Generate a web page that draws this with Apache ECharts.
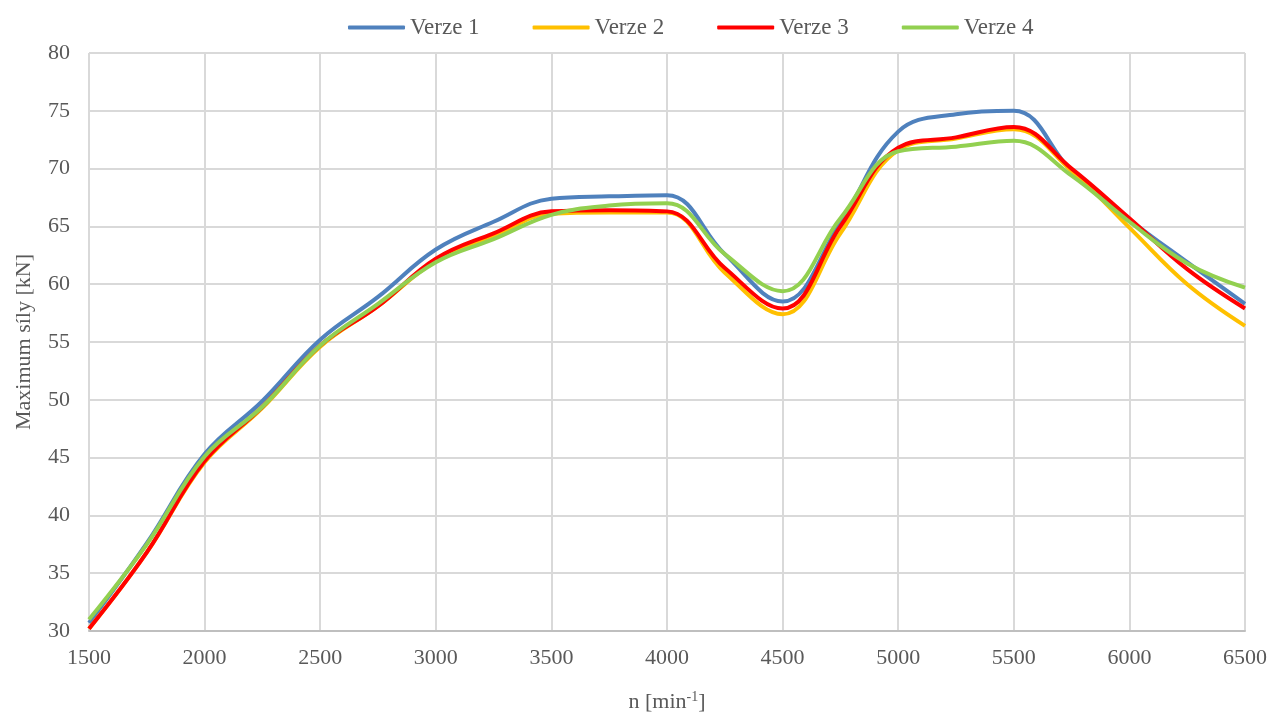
<!DOCTYPE html>
<html>
<head>
<meta charset="utf-8">
<script src="https://cdn.jsdelivr.net/npm/echarts@6/dist/echarts.min.js"></script>
<style>html,body{margin:0;padding:0;background:#fff;}#c{width:1274px;height:718px;}</style>
</head>
<body>
<div id="c"></div>
<script>
const rpm = [1500,1750,2000,2250,2500,2750,3000,3250,3500,3750,4000,4250,4500,4750,5000,5250,5500,5750,6000,6250,6500];
const verze1 = [30.7,37.6,45.3,49.9,55.2,58.9,63.0,65.4,67.4,67.6,67.7,62.6,58.5,65.3,73.2,74.7,75.0,69.8,65.6,61.9,58.3];
const verze2 = [30.2,36.8,44.6,49.3,54.6,58.1,62.0,64.1,66.1,66.2,66.2,61.0,57.4,64.4,71.6,72.6,73.4,69.8,64.9,60.0,56.4];
const verze3 = [30.2,36.8,44.7,49.4,54.7,58.1,62.2,64.4,66.3,66.4,66.3,61.4,57.9,65.0,71.8,72.7,73.6,70.0,65.7,61.3,57.9];
const verze4 = [31.0,37.5,45.1,49.4,54.7,58.3,61.9,63.9,66.0,66.8,67.0,62.6,59.4,65.7,71.5,71.9,72.4,69.4,65.4,61.8,59.7];
const seriesNames = ['Verze 1','Verze 2','Verze 3','Verze 4'];
const seriesColors = ['#4F81BD','#FFC000','#FF0000','#92D050'];
const allData = [verze1, verze2, verze3, verze4];

const font = '"Liberation Serif", "Times New Roman", serif';
const chart = echarts.init(document.getElementById('c'), null, {renderer:'canvas'});
chart.setOption({
  animation:false,
  backgroundColor:'#fff',
  textStyle:{fontFamily:font},
  legend:{
    top:11, left:343,
    itemWidth:57, itemHeight:4, itemGap:53,
    icon:'roundRect',
    textStyle:{fontFamily:font, fontSize:23, color:'#595959'},
    data:seriesNames
  },
  grid:{left:89, right:29, top:53, bottom:78, containLabel:false},
  xAxis:{
    type:'value', min:1500, max:6500, interval:500,
    name:'n [min{sup|-1}]',
    nameLocation:'middle', nameGap:59,
    nameTextStyle:{fontFamily:font, fontSize:22, color:'#595959',
      rich:{sup:{fontFamily:font, fontSize:14, color:'#595959', verticalAlign:'top', padding:[0,0,10,0]}}},
    axisLine:{show:true, lineStyle:{color:'#BFBFBF', width:2}},
    axisTick:{show:false},
    axisLabel:{fontFamily:font, fontSize:22, color:'#595959', margin:16, formatter:v=>String(v)},
    splitLine:{show:true, lineStyle:{color:'#D9D9D9', width:2}}
  },
  yAxis:{
    type:'value', min:30, max:80, interval:5,
    name:'Maximum síly [kN]',
    nameLocation:'middle', nameGap:54, nameRotate:90,
    nameTextStyle:{fontFamily:font, fontSize:22, color:'#595959'},
    axisLine:{show:false},
    axisTick:{show:false},
    axisLabel:{fontFamily:font, fontSize:22, color:'#595959', margin:19},
    splitLine:{show:true, lineStyle:{color:'#D9D9D9', width:2}}
  },
  series: allData.map((d,i)=>({
    name:seriesNames[i],
    type:'line',
    smooth:0.4,
    showSymbol:false,
    symbol:'none',
    data: rpm.map((x,j)=>[x,d[j]]),
    lineStyle:{color:seriesColors[i], width:4},
    itemStyle:{color:seriesColors[i]}
  }))
});
</script>
</body>
</html>
